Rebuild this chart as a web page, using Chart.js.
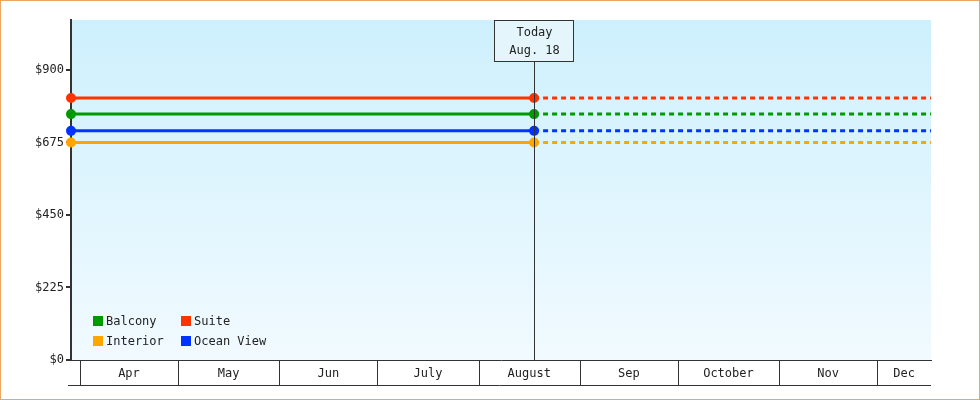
<!DOCTYPE html>
<html>
<head>
<meta charset="utf-8">
<script src="https://cdn.jsdelivr.net/npm/chart.js@4"></script>
<style>
  body { margin:0; background:#fff; }
  #wrap { width:980px; height:400px; position:relative; }
</style>
</head>
<body>
<div id="wrap"><canvas id="c" width="980" height="400"></canvas></div>
<script>
// prices per cabin type (flat), days counted from Apr 1
const seriesNames = ['Interior', 'Ocean View', 'Balcony', 'Suite']
const seriesColors = ['#ffa500', '#0033ff', '#009900', '#ff3300']
const seriesPrices = [675, 711, 763, 813]
const monthLabels = ['Apr', 'May', 'Jun', 'July', 'August', 'Sep', 'October', 'Nov', 'Dec']
const monthStarts = [0, 30, 61, 91, 122, 153, 183, 214, 244]
const yTicks = [0, 225, 450, 675, 900]
const xMin = -2.75, xMax = 260.5
const todayDay = 139
const todayLabel = ['Today', 'Aug. 18']
const FONT = 'DejaVu Sans Mono'

const datasets = []
seriesNames.forEach((n, i) => {
    datasets.push({
        label: n, data: [{x:xMin, y:seriesPrices[i]}, {x:todayDay, y:seriesPrices[i]}],
        borderColor: seriesColors[i], backgroundColor: seriesColors[i],
        borderWidth: 3, pointRadius: 3.5, pointHoverRadius: 3.5, clip: false
    })
    datasets.push({
        label: n + ' future', data: [{x:todayDay, y:seriesPrices[i]}, {x:xMax, y:seriesPrices[i]}],
        borderColor: seriesColors[i], borderWidth: 3, borderDash: [5, 4], pointRadius: 0
    })
})

const decor = {
    id: 'decor',
    beforeDraw(chart) {
        const {ctx, chartArea: a} = chart
        const g = ctx.createLinearGradient(0, a.top, 0, a.bottom)
        g.addColorStop(0, '#cdf0fd')
        g.addColorStop(1, '#f1faff')
        ctx.save()
        ctx.fillStyle = g
        ctx.fillRect(a.left, a.top, a.right - a.left, a.bottom - a.top)
        ctx.restore()
    },
    afterDatasetsDraw(chart) {
        const {ctx, chartArea: a, scales: {x}} = chart
        ctx.save()
        // today marker
        const tx = Math.round(x.getPixelForValue(todayDay)) + 0.5
        ctx.strokeStyle = '#333'; ctx.lineWidth = 1
        ctx.beginPath(); ctx.moveTo(tx, a.top + 41); ctx.lineTo(tx, a.bottom); ctx.stroke()
        ctx.fillStyle = '#e4f6fc'
        ctx.fillRect(tx - 40, a.top + 0.5, 79, 41)
        ctx.strokeRect(tx - 40, a.top + 0.5, 79, 41)
        ctx.fillStyle = '#222'; ctx.font = '12px ' + FONT
        ctx.textAlign = 'center'; ctx.textBaseline = 'middle'
        ctx.fillText(todayLabel[0], tx, a.top + 13)
        ctx.fillText(todayLabel[1], tx, a.top + 31)
        // month boxes under axis
        ctx.beginPath()
        ctx.moveTo(a.left - 3, a.bottom + 25.5); ctx.lineTo(a.right, a.bottom + 25.5)
        monthStarts.forEach(d => {
            const px = Math.round(x.getPixelForValue(d)) + 0.5
            ctx.moveTo(px, a.bottom); ctx.lineTo(px, a.bottom + 25)
        })
        ctx.stroke()
        monthLabels.forEach((m, i) => {
            const x0 = x.getPixelForValue(monthStarts[i])
            const x1 = i + 1 < monthStarts.length ? x.getPixelForValue(monthStarts[i + 1]) : a.right
            ctx.fillText(m, (x0 + x1) / 2, a.bottom + 14)
        })
        // legend
        ctx.textAlign = 'left'
        const order = [2, 3, 0, 1]
        order.forEach((si, k) => {
            const lx = a.left + 22 + (k % 2) * 88
            const ly = a.bottom - 39 + Math.floor(k / 2) * 20
            ctx.fillStyle = seriesColors[si]
            ctx.fillRect(lx, ly - 5, 10, 10)
            ctx.fillStyle = '#222'
            ctx.fillText(seriesNames[si], lx + 13, ly + 1)
        })
        // outer border
        ctx.strokeStyle = '#e8a862'
        ctx.strokeRect(0.5, 0.5, chart.width - 1, chart.height - 1)
        ctx.restore()
    }
}

new Chart(document.getElementById('c'), {
    type: 'line',
    data: { datasets },
    options: {
        responsive: false, animation: false,
        layout: { padding: { top: 20, right: 49, bottom: 0, left: 0 } },
        plugins: { legend: { display: false }, tooltip: { enabled: false } },
        scales: {
            x: {
                type: 'linear', min: xMin, max: xMax,
                grid: { display: false },
                border: { color: '#333', width: 1 },
                ticks: { display: false },
                afterFit: s => { s.height = 40 }
            },
            y: {
                min: 0, max: 1055,
                afterBuildTicks: s => { s.ticks = yTicks.map(v => ({value: v})) },
                grid: { drawOnChartArea: false, tickLength: 5, color: '#333', lineWidth: 2 },
                border: { color: '#333', width: 2 },
                ticks: { color: '#222', font: { family: FONT, size: 12 }, padding: 2, callback: v => '$' + v },
                afterFit: s => { s.width = 71 }
            }
        }
    },
    plugins: [decor]
})
</script>
</body>
</html>
